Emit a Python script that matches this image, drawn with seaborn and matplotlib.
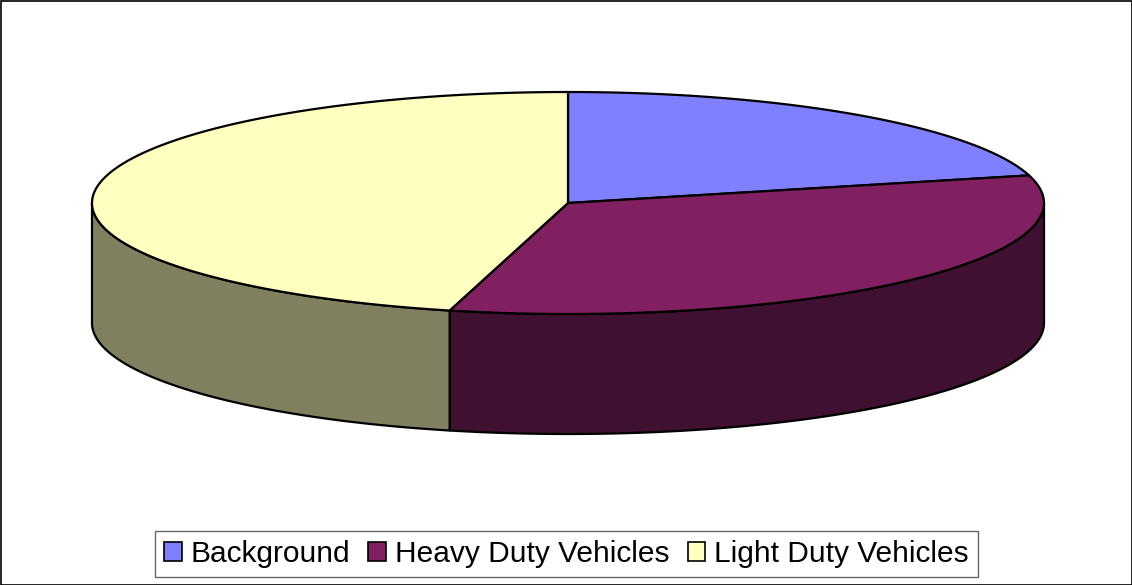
import matplotlib

matplotlib.use("Agg")
import matplotlib.pyplot as plt
import numpy as np
import seaborn as sns
from matplotlib.patches import Patch, Polygon, Rectangle

categories = ["Background", "Heavy Duty Vehicles", "Light Duty Vehicles"]
shares = [21, 33, 46]
colors = ["#8080FF", "#802060", "#FFFFC0"]

# layout of the tilted pie, in pixels
CX, CY = 568, 203
RX, RY = 476, 111
DEPTH = 120


def rim(t0, t1, n=200):
    t = np.radians(np.linspace(t0, t1, n))
    return CX + RX * np.cos(t), CY - RY * np.sin(t)


def darker(c, f=0.5):
    r, g, b = matplotlib.colors.to_rgb(c)
    return (r * f, g * f, b * f)


sns.set_style("white")
plt.rcParams["font.family"] = ["Liberation Sans", "DejaVu Sans"]

fig = plt.figure(figsize=(11.32, 5.85), dpi=100)
ax = fig.add_axes([0, 0, 1, 1])
ax.set_xlim(0, 1132)
ax.set_ylim(585, 0)
ax.axis("off")

# slice angles, clockwise from 12 o'clock
fracs = np.array(shares) / sum(shares)
ends = 90 - 360 * np.cumsum(fracs)
starts = np.concatenate([[90], ends[:-1]])

# side walls (front half only)
for a0, a1, col in zip(starts, ends, colors):
    lo, hi = max(a1, -180), min(a0, 0)
    if lo >= hi:
        continue
    x, y = rim(hi, lo)
    xs = np.concatenate([x, x[::-1]])
    ys = np.concatenate([y, (y + DEPTH)[::-1]])
    ax.add_patch(Polygon(np.column_stack([xs, ys]), closed=True,
                         facecolor=darker(col), edgecolor="black", lw=1.6,
                         joinstyle="round"))

# top faces
for a0, a1, col in zip(starts, ends, colors):
    x, y = rim(a0, a1)
    pts = np.column_stack([np.r_[CX, x], np.r_[CY, y]])
    ax.add_patch(Polygon(pts, closed=True, facecolor=col,
                         edgecolor="black", lw=1.6, joinstyle="round"))

# outer frame
ax.add_patch(Rectangle((0.5, 0.5), 1131, 584, fill=False,
                       edgecolor="black", lw=1.2))

handles = [Patch(facecolor=c, edgecolor="black", lw=1.2) for c in colors]
leg = fig.legend(handles, categories, loc="lower center", ncol=3,
                 bbox_to_anchor=(0.5004, 0.013), fontsize=21.5,
                 labelcolor="black",
                 frameon=True, fancybox=False, edgecolor="#404040",
                 handlelength=0.6, handleheight=0.6, handletextpad=0.3,
                 columnspacing=0.6, borderpad=0.3, borderaxespad=0)
leg.get_frame().set_linewidth(1.0)

fig.savefig("out.png", dpi=100)
